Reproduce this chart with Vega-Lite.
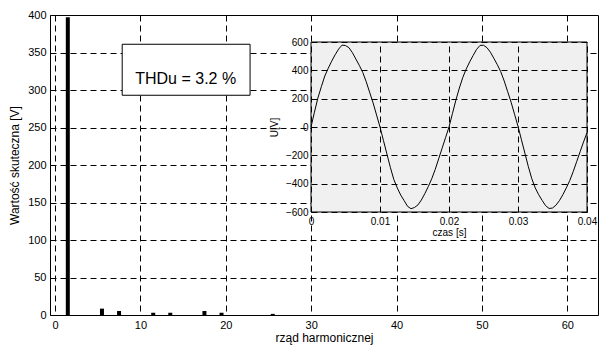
{
  "$schema": "https://vega.github.io/schema/vega-lite/v6.json",
  "width": 548,
  "height": 300,
  "autosize": {"type": "none"},
  "padding": {"left": 50, "top": 15, "right": 1, "bottom": 31},
  "config": {
    "font": "Liberation Sans",
    "view": {"stroke": "black", "strokeWidth": 1},
    "axis": {
      "labelFont": "Liberation Sans",
      "titleFont": "Liberation Sans",
      "labelColor": "black",
      "titleColor": "black",
      "titleFontWeight": "normal",
      "gridColor": "black",
      "gridDash": [6, 4],
      "gridWidth": 1,
      "gridOpacity": 1,
      "ticks": false,
      "domain": false,
      "labelFlush": false,
      "labelOverlap": false
    }
  },
  "datasets": {
    "harm": [
      {"n": 1.5, "v": 397},
      {"n": 5.5, "v": 8.5},
      {"n": 7.5, "v": 5.3},
      {"n": 11.5, "v": 3},
      {"n": 13.5, "v": 3},
      {"n": 17.5, "v": 5.3},
      {"n": 19.5, "v": 3},
      {"n": 25.5, "v": 1.5}
    ],
    "wave": [
      {"t": 0.0000, "u": 0}, {"t": 0.0005, "u": 105}, {"t": 0.0010, "u": 205}, {"t": 0.0015, "u": 285},
      {"t": 0.0020, "u": 360}, {"t": 0.0025, "u": 415}, {"t": 0.0030, "u": 465}, {"t": 0.0035, "u": 510},
      {"t": 0.0040, "u": 550}, {"t": 0.0045, "u": 578}, {"t": 0.0050, "u": 575}, {"t": 0.0055, "u": 560},
      {"t": 0.0060, "u": 525}, {"t": 0.0065, "u": 480}, {"t": 0.0070, "u": 435}, {"t": 0.0075, "u": 385},
      {"t": 0.0080, "u": 320}, {"t": 0.0085, "u": 245}, {"t": 0.0090, "u": 170}, {"t": 0.0095, "u": 85},
      {"t": 0.0100, "u": 0}, {"t": 0.0105, "u": -95}, {"t": 0.0110, "u": -190}, {"t": 0.0115, "u": -285},
      {"t": 0.0120, "u": -370}, {"t": 0.0125, "u": -430}, {"t": 0.0130, "u": -480}, {"t": 0.0135, "u": -520},
      {"t": 0.0140, "u": -560}, {"t": 0.0145, "u": -577}, {"t": 0.0150, "u": -568}, {"t": 0.0155, "u": -550},
      {"t": 0.0160, "u": -515}, {"t": 0.0165, "u": -470}, {"t": 0.0170, "u": -420}, {"t": 0.0175, "u": -365},
      {"t": 0.0180, "u": -300}, {"t": 0.0185, "u": -225}, {"t": 0.0190, "u": -150}, {"t": 0.0195, "u": -75},
      {"t": 0.0200, "u": 0}, {"t": 0.0205, "u": 95}, {"t": 0.0210, "u": 190}, {"t": 0.0215, "u": 275},
      {"t": 0.0220, "u": 350}, {"t": 0.0225, "u": 410}, {"t": 0.0230, "u": 460}, {"t": 0.0235, "u": 505},
      {"t": 0.0240, "u": 548}, {"t": 0.0245, "u": 576}, {"t": 0.0250, "u": 577}, {"t": 0.0255, "u": 560},
      {"t": 0.0260, "u": 528}, {"t": 0.0265, "u": 485}, {"t": 0.0270, "u": 440}, {"t": 0.0275, "u": 390},
      {"t": 0.0280, "u": 325}, {"t": 0.0285, "u": 250}, {"t": 0.0290, "u": 175}, {"t": 0.0295, "u": 90},
      {"t": 0.0300, "u": 5}, {"t": 0.0305, "u": -90}, {"t": 0.0310, "u": -185}, {"t": 0.0315, "u": -280},
      {"t": 0.0320, "u": -365}, {"t": 0.0325, "u": -430}, {"t": 0.0330, "u": -478}, {"t": 0.0335, "u": -518},
      {"t": 0.0340, "u": -555}, {"t": 0.0345, "u": -575}, {"t": 0.0350, "u": -572}, {"t": 0.0355, "u": -552},
      {"t": 0.0360, "u": -520}, {"t": 0.0365, "u": -478}, {"t": 0.0370, "u": -430}, {"t": 0.0375, "u": -378},
      {"t": 0.0380, "u": -315}, {"t": 0.0385, "u": -245}, {"t": 0.0390, "u": -175}, {"t": 0.0395, "u": -105},
      {"t": 0.0400, "u": -40}
    ]
  },
  "layer": [
    {
      "data": {"name": "harm"},
      "mark": {"type": "bar", "color": "black", "size": 4},
      "encoding": {
        "x": {
          "field": "n", "type": "quantitative",
          "scale": {"domain": [0, 63], "range": [0, 548], "nice": false, "zero": false},
          "axis": {
            "orient": "bottom",
            "values": [0, 10, 20, 30, 40, 50, 60],
            "grid": true,
            "title": "rząd harmonicznej",
            "labelFontSize": 11, "titleFontSize": 12,
            "labelPadding": 4, "titlePadding": 2
          }
        },
        "y": {
          "field": "v", "type": "quantitative",
          "scale": {"domain": [0, 400], "range": [300, 0], "nice": false, "zero": false},
          "axis": {
            "orient": "left",
            "values": [0, 50, 100, 150, 200, 250, 300, 350, 400],
            "grid": true,
            "title": "Wartość skuteczna [V]",
            "labelFontSize": 11, "titleFontSize": 12,
            "labelPadding": 4, "titlePadding": 6
          }
        }
      }
    },
    {
      "data": {"values": [{}]},
      "mark": {"type": "rect", "fill": "white", "stroke": "black", "strokeWidth": 1},
      "encoding": {
        "x": {"datum": 8.3, "type": "quantitative", "axis": null,
              "scale": {"domain": [0, 63], "range": [0, 548], "nice": false, "zero": false}},
        "x2": {"datum": 23},
        "y": {"datum": 361, "type": "quantitative", "axis": null,
              "scale": {"domain": [0, 400], "range": [300, 0], "nice": false, "zero": false}},
        "y2": {"datum": 293}
      }
    },
    {
      "data": {"values": [{}]},
      "mark": {"type": "text", "fontSize": 16, "font": "Liberation Sans", "color": "black"},
      "encoding": {
        "x": {"datum": 15.6, "type": "quantitative", "axis": null,
              "scale": {"domain": [0, 63], "range": [0, 548], "nice": false, "zero": false}},
        "y": {"datum": 315, "type": "quantitative", "axis": null,
              "scale": {"domain": [0, 400], "range": [300, 0], "nice": false, "zero": false}},
        "text": {"value": "THDu = 3.2 %"}
      }
    },
    {
      "data": {"values": [{}]},
      "mark": {"type": "rect", "fill": "#f0f0f0", "stroke": "black", "strokeWidth": 1},
      "encoding": {
        "x": {"datum": 0, "type": "quantitative", "axis": null,
              "scale": {"domain": [0, 0.04], "range": [261, 537], "nice": false, "zero": false}},
        "x2": {"datum": 0.04},
        "y": {"datum": -600, "type": "quantitative", "axis": null,
              "scale": {"domain": [-600, 600], "range": [197, 27], "nice": false, "zero": false}},
        "y2": {"datum": 600}
      }
    },
    {
      "data": {"name": "wave"},
      "mark": {"type": "line", "color": "black", "strokeWidth": 1},
      "encoding": {
        "x": {
          "field": "t", "type": "quantitative",
          "scale": {"domain": [0, 0.04], "range": [261, 537], "nice": false, "zero": false},
          "axis": {
            "orient": "top", "offset": -197,
            "values": [0, 0.01, 0.02, 0.03, 0.04],
            "format": ".2~f",
            "grid": true, "zindex": 1,
            "labelBaseline": "top", "labelPadding": -4,
            "labelFontSize": 10,
            "title": "czas [s]", "titleFontSize": 10,
            "titleY": 15, "titleBaseline": "top"
          }
        },
        "y": {
          "field": "u", "type": "quantitative",
          "scale": {"domain": [-600, 600], "range": [197, 27], "nice": false, "zero": false},
          "axis": {
            "orient": "left", "offset": -261,
            "values": [-600, -400, -200, 0, 200, 400, 600],
            "format": "d",
            "grid": true, "zindex": 1,
            "labelPadding": 3, "labelFontSize": 10,
            "title": "U[V]", "titleFontSize": 10,
            "titleX": -32, "titleY": 112
          }
        }
      }
    }
  ],
  "resolve": {
    "scale": {"x": "independent", "y": "independent"},
    "axis": {"x": "independent", "y": "independent"}
  }
}
